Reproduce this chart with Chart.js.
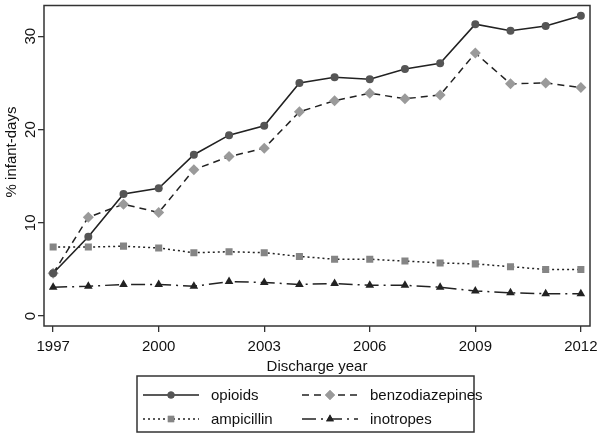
<!DOCTYPE html>
<html>
<head>
<meta charset="utf-8">
<script src="https://cdn.jsdelivr.net/npm/chart.js@4/dist/chart.umd.min.js"></script>
<style>
  html, body { margin: 0; padding: 0; background: #fff; }
  #wrap { width: 600px; height: 436px; position: relative; }
</style>
</head>
<body>
<div id="wrap"><canvas id="chart"></canvas></div>
<script>
'use strict';
// values
let years = [1997, 1998, 1999, 2000, 2001, 2002, 2003, 2004, 2005, 2006, 2007, 2008, 2009, 2010, 2011, 2012];
let opioids = [4.6, 8.5, 13.1, 13.7, 17.3, 19.4, 20.4, 25.0, 25.6, 25.4, 26.5, 27.1, 31.3, 30.6, 31.1, 32.2];
let benzodiazepines = [4.6, 10.6, 12.0, 11.1, 15.7, 17.1, 18.0, 21.9, 23.1, 23.9, 23.3, 23.7, 28.2, 24.9, 25.0, 24.5];
let ampicillin = [7.4, 7.4, 7.5, 7.3, 6.8, 6.9, 6.8, 6.4, 6.1, 6.1, 5.9, 5.7, 5.6, 5.3, 5.0, 5.0];
let inotropes = [3.1, 3.2, 3.4, 3.4, 3.2, 3.7, 3.6, 3.4, 3.5, 3.3, 3.3, 3.1, 2.7, 2.5, 2.4, 2.4];
let xTicks = [1997, 2000, 2003, 2006, 2009, 2012];
let yTicks = [0, 10, 20, 30];

function points(vals) {
  return years.map((yr, i) => ({ x: yr, y: vals[i] }));
}

let font = 'Liberation Sans, Arial, sans-serif';

// legend order: opioids, benzodiazepines / ampicillin, inotropes
let datasets = [
  { label: 'opioids', data: points(opioids), borderColor: '#222', borderWidth: 1.6, borderDash: [],
    pointStyle: 'circle', pointRadius: 4, pointBackgroundColor: '#555', pointBorderColor: '#555' },
  { label: 'benzodiazepines', data: points(benzodiazepines), borderColor: '#222', borderWidth: 1.5, borderDash: [7, 5],
    pointStyle: 'rectRot', pointRadius: 5.5, pointBackgroundColor: '#9a9a9a', pointBorderColor: '#9a9a9a' },
  { label: 'ampicillin', data: points(ampicillin), borderColor: '#222', borderWidth: 1.5, borderDash: [2, 3],
    pointStyle: 'rect', pointRadius: 5, pointBackgroundColor: '#858585', pointBorderColor: '#858585' },
  { label: 'inotropes', data: points(inotropes), borderColor: '#222', borderWidth: 1.5, borderDash: [14, 5, 2, 5],
    pointStyle: 'triangle', pointRadius: 5, pointBackgroundColor: '#222', pointBorderColor: '#222' }
];
datasets.forEach(d => { d.fill = false; d.tension = 0; d.pointBorderWidth = 0; });

// frame around the plot region + rotated y labels (Stata style)
let framePlugin = {
  id: 'frame',
  afterDraw(chart) {
    let a = chart.chartArea, c = chart.ctx, ys = chart.scales.y;
    c.save();
    c.strokeStyle = '#333';
    c.lineWidth = 1.5;
    c.strokeRect(a.left, a.top, a.right - a.left, a.bottom - a.top);
    c.fillStyle = '#111';
    c.font = '15px ' + font;
    c.textAlign = 'center';
    c.textBaseline = 'middle';
    yTicks.forEach(v => {
      c.save();
      c.translate(31, ys.getPixelForValue(v));
      c.rotate(-Math.PI / 2);
      c.fillText(String(v), 0, 0);
      c.restore();
    });
    c.save();
    c.translate(12, 152);
    c.rotate(-Math.PI / 2);
    c.fillText('% infant-days', 0, 0);
    c.restore();
    c.restore();
  }
};

// legend box under the plot
let legendPlugin = {
  id: 'boxLegend',
  afterDraw(chart) {
    let c = chart.ctx;
    let bx = 137, by = 376, bw = 337, bh = 56;
    c.save();
    c.strokeStyle = '#333';
    c.lineWidth = 1.5;
    c.strokeRect(bx, by, bw, bh);
    let cells = [
      { ds: 0, x: 143, y: 395 }, { ds: 1, x: 302, y: 395 },
      { ds: 2, x: 143, y: 419 }, { ds: 3, x: 302, y: 419 }
    ];
    cells.forEach(cell => {
      let d = chart.data.datasets[cell.ds];
      let len = 56;
      c.strokeStyle = d.borderColor;
      c.lineWidth = d.borderWidth;
      c.setLineDash(d.borderDash);
      c.beginPath();
      c.moveTo(cell.x, cell.y);
      c.lineTo(cell.x + len, cell.y);
      c.stroke();
      c.setLineDash([]);
      c.fillStyle = d.pointBackgroundColor;
      c.beginPath();
      Chart.helpers.drawPoint(c, {
        pointStyle: d.pointStyle, radius: d.pointRadius - 0.5, borderWidth: 0, rotation: 0
      }, cell.x + len / 2, cell.y);
      c.fill();
      c.fillStyle = '#111';
      c.font = '15px ' + font;
      c.textBaseline = 'middle';
      c.fillText(d.label, cell.x + len + 12, cell.y + 1);
    });
    c.restore();
  }
};

new Chart(document.getElementById('chart'), {
  type: 'line',
  data: { datasets: datasets },
  plugins: [framePlugin, legendPlugin],
  options: {
    responsive: true,
    maintainAspectRatio: false,
    animation: false,
    layout: { padding: { top: 3, right: 10, bottom: 60, left: 0 } },
    plugins: { legend: { display: false }, tooltip: { enabled: false } },
    scales: {
      x: {
        type: 'linear',
        min: 1996.74,
        max: 2012.26,
        afterBuildTicks: s => { s.ticks = xTicks.map(v => ({ value: v })); },
        afterFit: s => { s.height = 50; s.paddingLeft = 0; s.paddingRight = 0; },
        grid: { display: true, drawOnChartArea: false, drawTicks: true, tickLength: 6, color: '#333', lineWidth: 1.3 },
        border: { display: false },
        ticks: { color: '#111', font: { family: font, size: 15 }, padding: 6, maxRotation: 0, callback: v => String(v) },
        title: { display: true, text: 'Discharge year', color: '#111', font: { family: font, size: 15 }, padding: { top: -6, bottom: 0 } }
      },
      y: {
        min: -1.06,
        max: 33.3,
        afterBuildTicks: s => { s.ticks = yTicks.map(v => ({ value: v })); },
        afterFit: s => { s.width = 44; },
        grid: { display: true, drawOnChartArea: false, drawTicks: true, tickLength: 6, color: '#333', lineWidth: 1.3 },
        border: { display: false },
        ticks: { display: false }
      }
    }
  }
});
</script>
</body>
</html>
